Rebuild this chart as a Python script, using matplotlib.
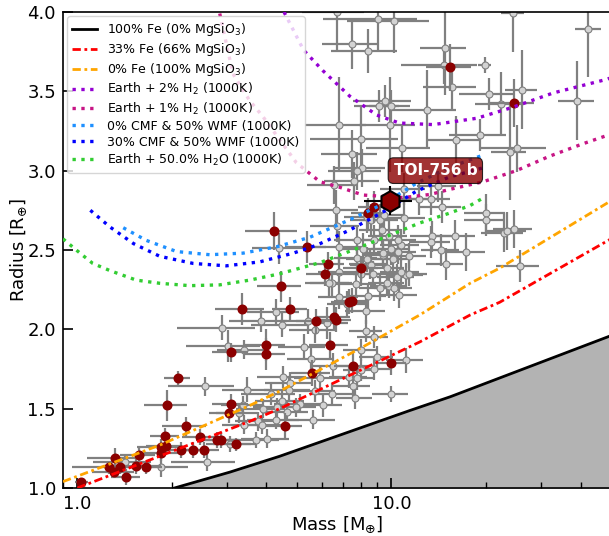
import numpy as np
import matplotlib
matplotlib.use("Agg")
import matplotlib.pyplot as plt
from matplotlib.ticker import LogLocator, FormatStrFormatter, NullFormatter, MultipleLocator

# composition curves: mass [M_earth], radius [R_earth]
fe100_mass = [2.04, 3.06, 4.41, 11.4, 15.4, 50.0]
fe100_rad = [1.0, 1.10, 1.20, 1.487, 1.575, 1.96]
fe33_mass = [1.0, 3.54, 4.41, 12.3, 17.8, 22.1, 50.0]
fe33_rad = [1.0, 1.42, 1.50, 1.92, 2.09, 2.17, 2.57]
fe0_mass = [0.9, 1.83, 3.54, 4.41, 8.13, 12.3, 17.8, 22.1, 50.0]
fe0_rad = [1.04, 1.27, 1.52, 1.61, 1.89, 2.09, 2.29, 2.385, 2.81]
h2_2_mass = [4.55, 5.25, 6.05, 7.36, 8.98, 10.6, 13.6, 18.7, 24.4, 32.8, 48.4, 50.0]
h2_2_rad = [4.0, 3.76, 3.63, 3.47, 3.35, 3.30, 3.29, 3.33, 3.40, 3.49, 3.575, 3.585]
h2_1_mass = [2.84, 3.13, 3.54, 3.9, 4.98, 5.92, 6.85, 8.13, 10.9, 13.3, 15.2, 19.6, 25.0, 31.8, 40.8, 50.0]
h2_1_rad = [3.99, 3.61, 3.44, 3.34, 3.05, 2.93, 2.895, 2.846, 2.83, 2.85, 2.88, 2.93, 3.0, 3.09, 3.17, 3.23]
w0_mass = [1.40, 1.66, 2.07, 2.64, 3.37, 4.31, 5.50, 7.36, 9.42, 12.0, 15.3, 19.7]
w0_rad = [2.64, 2.56, 2.49, 2.47, 2.48, 2.52, 2.58, 2.69, 2.79, 2.92, 3.02, 3.10]
w30_mass = [1.10, 1.27, 1.51, 1.83, 2.34, 2.98, 3.81, 4.87, 5.78, 7.36, 9.42, 12.0, 15.3, 19.8]
w30_rad = [2.75, 2.645, 2.54, 2.46, 2.415, 2.40, 2.425, 2.48, 2.53, 2.625, 2.74, 2.87, 2.96, 3.02]
h2o_mass = [0.90, 1.02, 1.12, 1.27, 1.54, 1.83, 2.28, 2.84, 3.54, 4.41, 5.92, 7.55, 9.65, 12.3, 15.2, 17.8, 19.3]
h2o_rad = [2.57, 2.48, 2.415, 2.37, 2.31, 2.29, 2.275, 2.28, 2.31, 2.35, 2.42, 2.50, 2.585, 2.67, 2.73, 2.78, 2.82]

# known planets (grey)
pl_mass = [1.42, 1.85, 2.58, 2.55, 3.01, 3.39, 3.48, 3.37, 3.26, 3.39, 3.07, 3.89, 4.13, 4.33, 3.77, 3.87, 4.03, 3.70,
           4.28, 3.84, 4.47, 5.43, 5.73, 6.25, 5.26, 5.56, 6.52, 8.32, 8.32, 8.77, 7.99, 8.99, 11.1, 8.82, 7.99, 7.34,
           7.79, 7.54, 7.66, 6.49, 5.91, 5.73, 6.05, 10.0, 4.53, 4.76, 4.72, 4.47, 5.13, 4.95, 4.64, 4.28, 5.61,
           6.82, 6.49, 6.32, 7.70, 8.52, 8.72, 9.66, 9.18, 9.86, 10.2, 10.6, 10.4, 11.1, 11.4, 14.9, 11.4, 10.5,
           9.42, 7.78, 6.83, 7.23, 8.41, 6.58, 7.61, 6.65, 7.47, 8.05, 7.79, 11.0, 12.2, 13.4, 14.5, 11.0, 20.0,
           20.0, 15.9, 17.3, 13.5, 14.4, 13.4, 6.69, 6.79, 7.77, 9.83, 9.31, 8.78, 10.0, 10.7, 4.40, 8.35, 9.18,
           8.58, 9.37, 10.1, 9.7, 8.38, 14.1, 9.5, 8.6, 10.5, 8.13, 7.99, 10.7, 25.6, 22.8, 23.4, 24.5, 6.7,
           9.07, 10.2, 7.5, 8.4, 14.8, 14.7, 19.8, 15.6, 20.4, 22.4, 26.0, 24.4, 42.4, 39.0, 9.52, 9.1, 9.98,
           13.0, 6.80, 9.9, 8.0, 10.8, 16.0, 19.2, 23.8, 25.1, 2.88]
pl_rad = [1.165, 1.13, 1.165, 1.64, 1.895, 1.87, 1.62, 1.52, 1.47, 1.40, 1.275, 1.50, 1.59, 1.51, 1.42, 1.40, 1.31, 1.30,
          2.11, 2.05, 2.03, 2.05, 1.995, 2.04, 1.89, 1.815, 1.77, 2.115, 1.99, 1.95, 1.87, 1.825, 1.805, 1.75, 1.745, 1.70,
          1.69, 1.64, 1.57, 1.59, 1.69, 1.61, 1.52, 1.59, 1.70, 1.66, 1.62, 1.55, 1.53, 1.51, 1.48, 1.43, 1.43,
          2.36, 2.29, 2.29, 2.285, 2.41, 2.35, 2.385, 2.26, 2.275, 2.26, 2.215, 2.33, 2.34, 2.35, 2.41, 2.465, 2.49,
          2.47, 2.45, 2.205, 2.16, 2.21, 2.91, 2.935, 2.755, 3.105, 3.015, 3.0, 2.885, 2.82, 2.82, 2.77, 2.70, 2.73,
          2.69, 2.59, 2.49, 2.585, 2.50, 2.55, 2.65, 2.52, 2.56, 2.59, 2.625, 2.56, 2.505, 2.53, 2.51, 2.71, 2.69,
          2.405, 2.48, 2.44, 2.29, 2.44, 2.90, 2.72, 2.69, 2.56, 2.505, 2.35, 2.36, 2.40, 2.61, 2.62, 2.63, 4.0,
          3.955, 3.94, 3.80, 3.755, 3.775, 3.665, 3.665, 3.53, 3.485, 3.42, 3.51, 3.995, 3.89, 3.44, 3.44, 3.405, 3.405,
          3.385, 3.29, 3.29, 3.20, 3.14, 3.195, 3.225, 3.115, 3.14, 2.01]
pl_mass_err = [0.3, 0.4, 0.6, 0.6, 0.8, 0.6, 0.6, 0.5, 0.5, 0.5, 0.5, 0.7, 0.8, 0.7, 0.6, 0.6, 0.7, 0.7,
               0.8, 0.8, 0.9, 1.0, 1.0, 1.0, 0.9, 0.9, 1.0, 1.2, 1.0, 1.0, 1.0, 1.1, 1.5, 1.1, 1.0, 1.0,
               1.0, 1.0, 1.0, 1.0, 1.0, 0.9, 0.9, 1.3, 0.8, 0.8, 0.8, 0.8, 0.9, 0.8, 0.8, 0.8, 1.0,
               1.0, 1.0, 1.0, 1.2, 1.2, 1.2, 1.3, 1.3, 1.3, 1.4, 1.5, 1.4, 1.5, 1.6, 2.0, 1.5, 1.5,
               1.3, 1.2, 1.0, 1.0, 1.2, 1.2, 1.5, 1.2, 1.5, 1.5, 1.5, 1.8, 2.0, 2.0, 2.2, 1.8, 3.0,
               3.0, 2.5, 2.5, 2.0, 2.0, 2.0, 1.2, 1.2, 1.2, 1.4, 1.4, 1.3, 1.4, 1.5, 0.8, 1.3, 1.3,
               1.2, 1.3, 1.4, 1.3, 1.2, 2.0, 1.4, 1.2, 1.5, 1.2, 1.2, 1.5, 4.0, 3.5, 3.5, 3.5, 1.5,
               3.0, 3.0, 1.5, 2.0, 2.5, 4.0, 1.0, 3.0, 4.0, 4.0, 3.0, 2.0, 4.0, 5.0, 2.0, 1.5, 1.5,
               3.0, 1.5, 2.0, 2.5, 2.5, 3.0, 4.0, 3.0, 6.0, 0.8]
pl_rad_err = [0.05, 0.06, 0.06, 0.06, 0.10, 0.06, 0.08, 0.06, 0.06, 0.06, 0.05, 0.06, 0.07, 0.06, 0.06, 0.06, 0.06, 0.05,
              0.08, 0.07, 0.08, 0.08, 0.08, 0.10, 0.08, 0.08, 0.08, 0.08, 0.07, 0.07, 0.07, 0.07, 0.08, 0.07, 0.07, 0.07,
              0.07, 0.07, 0.07, 0.07, 0.07, 0.07, 0.07, 0.05, 0.07, 0.07, 0.07, 0.06, 0.06, 0.06, 0.06, 0.06, 0.06,
              0.08, 0.08, 0.08, 0.08, 0.09, 0.08, 0.08, 0.08, 0.08, 0.08, 0.08, 0.08, 0.08, 0.08, 0.10, 0.08, 0.08,
              0.08, 0.08, 0.08, 0.08, 0.08, 0.12, 0.12, 0.12, 0.15, 0.12, 0.12, 0.10, 0.10, 0.10, 0.10, 0.10, 0.12,
              0.10, 0.10, 0.12, 0.10, 0.10, 0.10, 0.10, 0.10, 0.10, 0.10, 0.10, 0.10, 0.10, 0.10, 0.10, 0.10, 0.10,
              0.08, 0.08, 0.08, 0.08, 0.08, 0.10, 0.10, 0.10, 0.10, 0.10, 0.08, 0.08, 0.10, 0.12, 0.12, 0.12, 0.25,
              0.20, 0.20, 0.16, 0.14, 0.30, 0.12, 0.05, 0.15, 0.10, 0.20, 0.25, 0.25, 0.30, 0.25, 0.10, 0.10, 0.10,
              0.25, 0.30, 0.30, 0.20, 0.15, 0.15, 0.10, 0.30, 0.15, 0.08]

# planets around M dwarfs (dark red)
md_mass = [1.03, 1.32, 1.26, 1.31, 1.37, 1.43, 1.54, 1.57, 1.66, 1.84, 1.85, 1.91, 1.90, 2.14, 2.21, 2.33, 2.46,
           2.53, 2.79, 2.86, 3.21, 3.03, 3.09, 1.93, 2.09, 3.09, 3.99, 3.99, 4.44, 4.77, 6.28, 6.16, 8.03, 5.77,
           6.57, 6.65, 7.31, 7.47, 6.36, 5.58, 7.55, 9.96, 4.59, 4.22, 5.39, 8.41, 8.80, 15.4, 24.5, 3.34]
md_rad = [1.04, 1.19, 1.13, 1.10, 1.13, 1.07, 1.14, 1.21, 1.13, 1.22, 1.26, 1.265, 1.33, 1.24, 1.39, 1.24, 1.32,
          1.24, 1.30, 1.30, 1.275, 1.47, 1.53, 1.52, 1.69, 1.855, 1.90, 1.845, 2.27, 2.125, 2.41, 2.35, 2.385, 2.05,
          2.08, 2.06, 2.175, 2.18, 1.90, 1.725, 1.77, 1.79, 1.39, 2.62, 2.52, 2.73, 2.77, 3.65, 3.425, 2.13]
md_mass_err = [0.05, 0.25, 0.3, 0.2, 0.15, 0.15, 0.3, 0.2, 0.2, 0.3, 0.3, 0.25, 0.2, 0.3, 0.35, 0.3, 0.3,
               0.3, 0.4, 0.4, 0.5, 0.4, 0.4, 0.3, 0.2, 0.4, 0.6, 0.6, 0.7, 0.6, 0.8, 0.8, 1.0, 0.8,
               0.8, 0.8, 0.9, 0.9, 0.9, 0.8, 1.0, 1.2, 0.6, 0.8, 0.8, 1.0, 1.0, 2.5, 4.0, 0.6]
md_rad_err = [0.02, 0.06, 0.04, 0.04, 0.04, 0.05, 0.05, 0.04, 0.04, 0.05, 0.05, 0.05, 0.05, 0.05, 0.06, 0.05, 0.05,
              0.05, 0.05, 0.05, 0.04, 0.06, 0.06, 0.10, 0.05, 0.06, 0.10, 0.10, 0.10, 0.08, 0.08, 0.08, 0.08, 0.08,
              0.08, 0.08, 0.08, 0.08, 0.08, 0.08, 0.08, 0.08, 0.08, 0.12, 0.10, 0.10, 0.10, 0.15, 0.15, 0.10]

# TOI-756 b
toi_mass, toi_mass_err = 9.9, 1.7
toi_rad, toi_rad_err = 2.81, 0.09

fig = plt.figure(figsize=(6.09, 5.36), dpi=100)
ax = fig.add_axes([0.1034, 0.0896, 0.8998, 0.8881])

ax.errorbar(pl_mass, pl_rad, xerr=pl_mass_err, yerr=pl_rad_err, fmt='o', ms=5, mfc='lightgray', mec='gray',
            mew=0.8, ecolor='gray', elinewidth=1.6, capsize=0, zorder=2)
ax.errorbar(md_mass, md_rad, xerr=md_mass_err, yerr=md_rad_err, fmt='o', ms=6.2, mfc='darkred', mec='darkred',
            ecolor='gray', elinewidth=1.6, capsize=0, zorder=2.5)

dashdot = (0, (3, 1.3, 1, 1.3))
ax.fill_between(fe100_mass, fe100_rad, 0.5, color='0.7', zorder=1)
ax.plot(fe100_mass, fe100_rad, color='black', lw=2, label=r'100% Fe (0% MgSiO$_3$)', zorder=3)
ax.plot(fe33_mass, fe33_rad, color='red', lw=2, ls=dashdot, label=r'33% Fe (66% MgSiO$_3$)', zorder=3)
ax.plot(fe0_mass, fe0_rad, color='orange', lw=2, ls=dashdot, label=r'0% Fe (100% MgSiO$_3$)', zorder=3)
ax.plot(h2_2_mass, h2_2_rad, color='darkviolet', lw=2.4, ls=':', label=r'Earth + 2% H$_2$ (1000K)', zorder=3)
ax.plot(h2_1_mass, h2_1_rad, color='mediumvioletred', lw=2.4, ls=':', label=r'Earth + 1% H$_2$ (1000K)', zorder=3)
ax.plot(w0_mass, w0_rad, color='dodgerblue', lw=2.4, ls=':', label='0% CMF & 50% WMF (1000K)', zorder=3)
ax.plot(w30_mass, w30_rad, color='blue', lw=2.4, ls=':', label='30% CMF & 50% WMF (1000K)', zorder=3)
ax.plot(h2o_mass, h2o_rad, color='limegreen', lw=2.4, ls=':', label=r'Earth + 50.0% H$_2$O (1000K)', zorder=3)

ax.errorbar(toi_mass, toi_rad, xerr=toi_mass_err, yerr=toi_rad_err, fmt='h', ms=15, mfc='darkred', mec='black',
            mew=1.5, ecolor='black', elinewidth=1.5, capsize=0, zorder=6)
ax.text(13.8, 3.0, 'TOI-756 b', color='white', fontsize=11, fontweight='bold', ha='center', va='center', zorder=7,
        bbox=dict(boxstyle='round,pad=0.35', fc='darkred', ec='black', lw=0.8, alpha=0.8))

ax.set_xscale('log')
ax.set_xlim(0.9, 50)
ax.set_ylim(1.0, 4.0)
ax.xaxis.set_major_locator(LogLocator(base=10))
ax.xaxis.set_major_formatter(FormatStrFormatter('%.1f'))
ax.xaxis.set_minor_locator(LogLocator(base=10, subs=np.arange(2, 10)))
ax.xaxis.set_minor_formatter(NullFormatter())
ax.yaxis.set_major_locator(MultipleLocator(0.5))
ax.tick_params(which='both', direction='in', top=False, right=False, labelsize=13, pad=5)
ax.tick_params(which='major', length=7.5, width=1.2)
ax.tick_params(which='minor', length=4, width=1.0)
for s in ax.spines.values():
    s.set_linewidth(1.2)

ax.set_xlabel(r'Mass [M$_{\oplus}$]', fontsize=13, labelpad=1)
ax.set_ylabel(r'Radius [R$_{\oplus}$]', fontsize=13, labelpad=-1)
ax.legend(loc='upper left', fontsize=9, labelspacing=0.24, handlelength=2.0, borderaxespad=0.35)

fig.savefig('out.png', dpi=100)
